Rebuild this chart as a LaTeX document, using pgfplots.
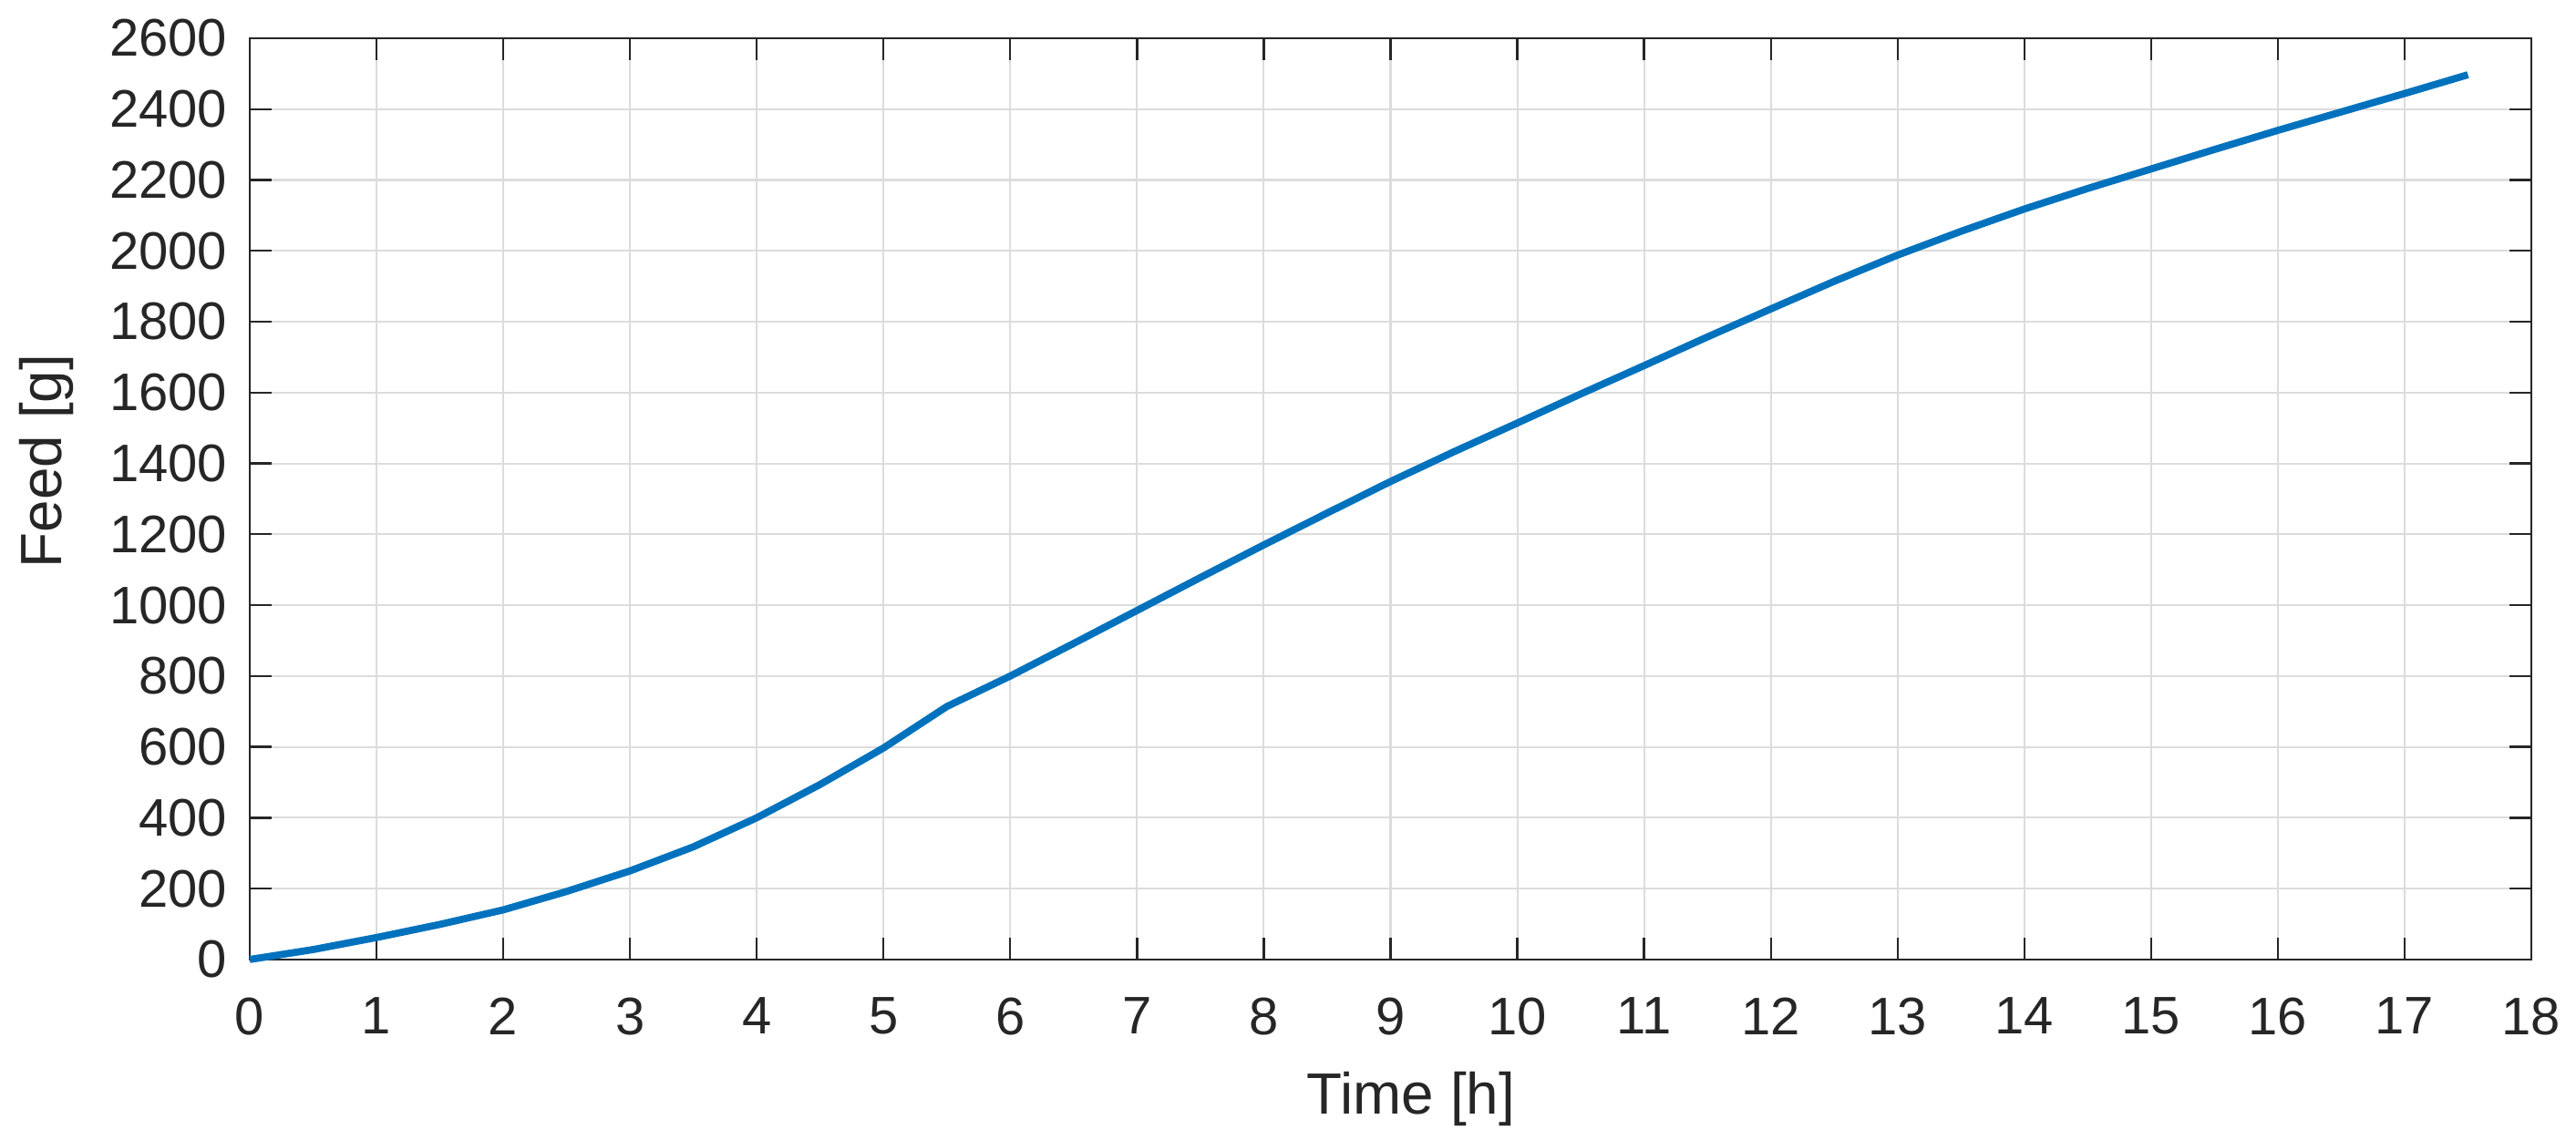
\documentclass[border=0pt]{standalone}
\usepackage{pgfplots}
\pgfplotsset{compat=1.18}
\usepackage{fontspec}
\setmainfont{Liberation Sans}
\definecolor{mblue}{HTML}{0072BD}
\definecolor{axgray}{HTML}{262626}
\definecolor{gridgray}{HTML}{DCDCDC}
\begin{document}
\begin{tikzpicture}
\begin{axis}[
  scale only axis, width=431.55pt, height=174.3pt,
  xmin=0, xmax=18, ymin=0, ymax=2600,
  xtick={0,1,...,18}, ytick={0,200,...,2600},
  scaled ticks=false,
  /pgf/number format/1000 sep={},
  /pgf/number format/assume math mode=true,
  grid=major,
  major grid style={gridgray, line width=0.35pt},
  axis line style={axgray, line width=0.4pt},
  tick style={axgray, line width=0.4pt},
  major tick length=4.1pt,
  tick align=inside,
  xtick pos=both, ytick pos=both,
  tick label style={font=\fontsize{10}{12}\selectfont, text=axgray, inner sep=0pt},
  xticklabel style={anchor=north, yshift=-7pt},
  yticklabel style={anchor=east, xshift=-4.1pt},
  xlabel={Time [h]},
  ylabel={Feed [g]},
  xlabel style={at={(axis description cs:0.509,-0.1206)}, anchor=north, inner sep=0pt, font=\fontsize{11}{13}\selectfont, text=axgray},
  ylabel style={at={(axis description cs:-0.1015,0.541)}, anchor=north, inner sep=0pt, font=\fontsize{11}{13}\selectfont, text=axgray},
  clip=false,
]
\addplot[mblue, line width=1.35pt, line join=round] coordinates {
(0,0) (0.5,28) (1,62) (1.5,99) (2,140) (2.5,192) (3,250) (3.5,318) (4,400)
(4.5,494) (5,597) (5.5,714) (6,800) (6.5,892) (7,985) (7.5,1078) (8,1170)
(8.5,1260) (9,1349) (9.5,1433) (10,1514) (10.5,1596) (11,1676) (11.5,1757)
(12,1836) (12.5,1914) (13,1988) (13.5,2055) (14,2118) (14.5,2176) (15,2231)
(15.5,2286) (16,2340) (16.5,2392) (17,2444) (17.5,2497)
};
\end{axis}
\pgfresetboundingbox
\path ([xshift=-47.24pt,yshift=-34.14pt]current axis.south west) rectangle ([xshift=8.45pt,yshift=7.24pt]current axis.north east);
\end{tikzpicture}
\end{document}
